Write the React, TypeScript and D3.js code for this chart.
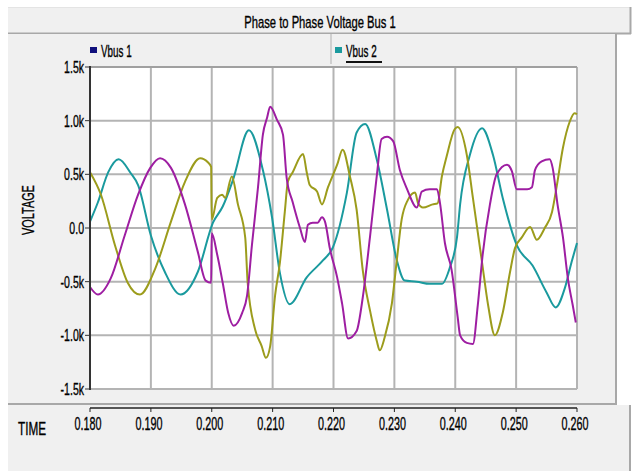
import React from 'react';
import * as d3 from 'd3';

// time in seconds, voltage in volts
const tealT = [0.1800, 0.1813, 0.1830, 0.1847, 0.1867, 0.1879, 0.1900, 0.1923, 0.1949, 0.1977, 0.2002, 0.2018, 0.2035, 0.2061, 0.2084, 0.2099, 0.2112, 0.2128, 0.2156, 0.2183, 0.2199, 0.2222, 0.2238, 0.2252, 0.2271, 0.2288, 0.2304, 0.2317, 0.2337, 0.2358, 0.2378, 0.2391, 0.2403, 0.2408, 0.2424, 0.2444, 0.2462, 0.2478, 0.2501, 0.2527, 0.2550, 0.2565, 0.2580, 0.2591, 0.2600];
const tealV = [60, 240, 520, 640, 510, 400, -70, -410, -620, -410, 50, 200, 450, 910, 540, 100, -420, -710, -460, -300, -180, 330, 890, 970, 640, 170, -300, -490, -500, -520, -520, -370, -80, 220, 680, 930, 680, 280, -160, -350, -600, -740, -560, -320, -140];

const oliveT = [0.1800, 0.1818, 0.1841, 0.1862, 0.1882, 0.1907, 0.1933, 0.1956, 0.1981, 0.1994, 0.1999, 0.2000, 0.2009, 0.2017, 0.2022, 0.2033, 0.2043, 0.2055, 0.2059, 0.2071, 0.2082, 0.2089, 0.2096, 0.2104, 0.2112, 0.2120, 0.2125, 0.2133, 0.2150, 0.2156, 0.2161, 0.2173, 0.2181, 0.2191, 0.2206, 0.2215, 0.2227, 0.2238, 0.2248, 0.2260, 0.2271, 0.2276, 0.2284, 0.2296, 0.2304, 0.2312, 0.2322, 0.2334, 0.2339, 0.2347, 0.2363, 0.2371, 0.2378, 0.2386, 0.2399, 0.2404, 0.2419, 0.2429, 0.2444, 0.2454, 0.2465, 0.2478, 0.2490, 0.2498, 0.2509, 0.2523, 0.2534, 0.2547, 0.2559, 0.2567, 0.2577, 0.2588, 0.2596, 0.2600];
const oliveV = [520, 310, -160, -510, -620, -380, 60, 430, 650, 610, 570, 80, 280, 310, 280, 480, 220, -90, -510, -940, -1100, -1210, -1100, -630, -320, 150, 430, 520, 690, 520, 400, 340, 220, 380, 590, 730, 480, 170, -390, -770, -1050, -1140, -1020, -700, -300, 80, 260, 330, 230, 190, 220, 230, 480, 670, 920, 940, 680, 280, -320, -720, -1000, -790, -410, -190, -90, 10, -110, 0, 150, 400, 750, 990, 1070, 1060];

const magT = [0.1800, 0.1813, 0.1834, 0.1857, 0.1879, 0.1899, 0.1915, 0.1933, 0.1956, 0.1977, 0.1990, 0.1999, 0.2000, 0.2009, 0.2018, 0.2027, 0.2036, 0.2050, 0.2058, 0.2066, 0.2076, 0.2084, 0.2091, 0.2096, 0.2107, 0.2117, 0.2123, 0.2133, 0.2145, 0.2153, 0.2158, 0.2166, 0.2174, 0.2181, 0.2186, 0.2194, 0.2206, 0.2214, 0.2224, 0.2238, 0.2248, 0.2260, 0.2271, 0.2279, 0.2288, 0.2298, 0.2309, 0.2321, 0.2337, 0.2345, 0.2358, 0.2370, 0.2375, 0.2383, 0.2394, 0.2404, 0.2408, 0.2419, 0.2429, 0.2437, 0.2445, 0.2457, 0.2468, 0.2485, 0.2493, 0.2501, 0.2518, 0.2526, 0.2531, 0.2542, 0.2555, 0.2560, 0.2568, 0.2577, 0.2585, 0.2593, 0.2598];
const magV = [-550, -620, -470, -70, 310, 560, 650, 560, 220, -220, -490, -510, -50, -250, -510, -790, -910, -790, -630, -160, 380, 870, 1030, 1130, 1010, 870, 470, 240, 0, -130, 30, 50, 50, 100, 60, -190, -460, -700, -1030, -960, -650, -80, 480, 830, 850, 810, 540, 360, 190, 340, 360, 360, 230, -140, -390, -830, -1000, -1070, -1080, -720, -250, 220, 500, 590, 530, 360, 360, 380, 540, 620, 640, 560, 220, -90, -470, -720, -880];

const xTicks = [0.18, 0.19, 0.20, 0.21, 0.22, 0.23, 0.24, 0.25, 0.26];
const yTicks = [-1500, -1000, -500, 0, 500, 1000, 1500];
const legendNames = ['Vbus 1', 'Vbus 2'];

const FONT = '"Liberation Sans", Arial, sans-serif';

const Txt = ({ x, y, size, sx = 0.62, anchor = 'start', rotate = 0, children }: any) => (
	<g transform={`translate(${x},${y}) rotate(${rotate}) scale(${sx},1)`}>
		<text x={0} y={0} fontSize={size} fontFamily={FONT} textAnchor={anchor} fill='#000' stroke='#000' strokeWidth={0.35}>{children}</text>
	</g>
);

export default function App() {
	const x = d3.scaleLinear().domain([0.18, 0.26]).range([90, 577]);
	const y = d3.scaleLinear().domain([-1500, 1500]).range([389, 67]);

	const line = d3.line<[number, number]>()
		.x(d => x(d[0]))
		.y(d => y(d[1]))
		.curve(d3.curveMonotoneX);

	const series = [
		{ t: tealT, v: tealV, color: '#1a9a9e' },
		{ t: oliveT, v: oliveV, color: '#9c9c1c' },
		{ t: magT, v: magV, color: '#9e1ea2' },
	];

	const yFmt = (v: number) => v === 0 ? '0.0' : (v / 1000).toFixed(1) + 'k';

	return (
		<svg width={633} height={471} style={{ position: 'absolute', left: 0, top: 0, background: '#fff' }}>
			{/* title bar */}
			<rect x={8} y={7} width={623} height={27} fill='#f0f0f0' />
			<line x1={8} y1={7.5} x2={631} y2={7.5} stroke='#e4e4e4' />
			<line x1={630.5} y1={7} x2={630.5} y2={34} stroke='#a8a8a8' strokeWidth={2} />
			<line x1={8} y1={33.5} x2={631} y2={33.5} stroke='#a8a8a8' strokeWidth={2} />
			<Txt x={320} y={28} size={17} sx={0.66} anchor='middle'>Phase to Phase Voltage Bus 1</Txt>

			{/* chart panel */}
			<rect x={8} y={34} width={608} height={370} fill='#f0f0f0' />
			<line x1={616} y1={34} x2={616} y2={404} stroke='#a8a8a8' strokeWidth={2} />
			<line x1={8} y1={404} x2={617} y2={404} stroke='#a8a8a8' strokeWidth={2} />

			{/* bottom panel */}
			<rect x={8} y={405} width={622} height={66} fill='#f0f0f0' />
			<line x1={630} y1={405} x2={630} y2={471} stroke='#a8a8a8' strokeWidth={2} />

			{/* legend */}
			<line x1={331} y1={34} x2={331} y2={64} stroke='#b0b0b0' />
			{legendNames.map((name, i) => {
				const lx = i === 0 ? 90 : 335;
				return (
					<g key={name}>
						<rect x={lx} y={47} width={7} height={6} fill={i === 0 ? '#10107c' : '#1a9a9e'} />
						<Txt x={lx + 11} y={57} size={17} sx={0.58}>{name}</Txt>
					</g>
				);
			})}
			<line x1={346} y1={62} x2={382} y2={62} stroke='#111' strokeWidth={2} />

			{/* plot area */}
			<rect x={90} y={67} width={487} height={322} fill='#fff' />
			{xTicks.map(t => (
				<line key={'gx' + t} x1={x(t)} x2={x(t)} y1={67} y2={389} stroke='#b4b4b4' strokeWidth={2} />
			))}
			{yTicks.map(v => (
				<line key={'gy' + v} x1={90} x2={577} y1={y(v)} y2={y(v)} stroke={v === 1500 ? '#a0a0a0' : '#b4b4b4'} strokeWidth={2} />
			))}

			{series.map((s, i) => (
				<path key={i} d={line(s.t.map((t, j) => [t, s.v[j]]) as [number, number][]) || ''}
					fill='none' stroke={s.color} strokeWidth={2} />
			))}

			{/* y axis */}
			<line x1={90} x2={90} y1={66} y2={390} stroke='#333' strokeWidth={2} />
			{yTicks.map(v => (
				<g key={'yt' + v}>
					<line x1={85} x2={90} y1={y(v)} y2={y(v)} stroke='#333' />
					<Txt x={84} y={y(v) + 6} size={17} sx={0.62} anchor='end'>{yFmt(v)}</Txt>
				</g>
			))}
			<Txt x={34} y={210} size={17} sx={0.64} anchor='middle' rotate={-90}>VOLTAGE</Txt>

			{/* x axis */}
			<line x1={x(0.18)} x2={x(0.26)} y1={408} y2={408} stroke='#222' strokeWidth={1.5} />
			{xTicks.map(t => (
				<g key={'xt' + t}>
					<line x1={x(t)} x2={x(t)} y1={408} y2={412} stroke='#222' />
					<Txt x={x(t) - 2} y={430} size={18} sx={0.6} anchor='middle'>{t.toFixed(3)}</Txt>
				</g>
			))}
			<Txt x={32} y={435} size={19} sx={0.62} anchor='middle'>TIME</Txt>
		</svg>
	);
}
